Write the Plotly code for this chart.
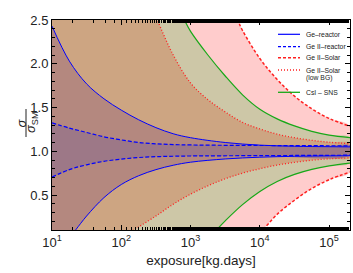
import plotly.graph_objects as go

# ---------------- data ----------------
# Ge-reactor (blue solid)
ge_reac_up_x = [10, 17.8, 31.6, 56.2, 100, 178, 316, 562, 1000, 3162, 10000, 31623, 100000, 200000]
ge_reac_up_y = [2.43, 2.03, 1.77, 1.60, 1.47, 1.36, 1.27, 1.20, 1.155, 1.10, 1.07, 1.057, 1.052, 1.05]
ge_reac_lo_x = [10, 17.8, 21.9, 31.6, 56.2, 100, 178, 316, 562, 1000, 3162, 10000, 31623, 100000, 200000]
ge_reac_lo_y = [-0.3, 0.01, 0.10, 0.26, 0.47, 0.62, 0.72, 0.79, 0.84, 0.875, 0.912, 0.932, 0.942, 0.947, 0.949]

# Ge II-reactor (blue dashed)
ge2_reac_up_x = [10, 17.8, 31.6, 56.2, 100, 178, 316, 562, 1000, 3162, 10000, 100000, 200000]
ge2_reac_up_y = [1.324, 1.265, 1.215, 1.165, 1.13, 1.10, 1.085, 1.076, 1.072, 1.068, 1.066, 1.063, 1.062]
ge2_reac_lo_x = [10, 17.8, 31.6, 56.2, 100, 178, 316, 562, 1000, 10000, 200000]
ge2_reac_lo_y = [0.705, 0.79, 0.845, 0.885, 0.91, 0.928, 0.938, 0.943, 0.946, 0.95, 0.955]

# Ge II-Solar (red dashed)
ge2_sol_up_x = [10, 3981, 4786, 5623, 10000, 17783, 31623, 56234, 100000, 200000]
ge2_sol_up_y = [3.2, 2.64, 2.5, 2.38, 2.06, 1.82, 1.63, 1.485, 1.375, 1.285]
ge2_sol_lo_x = [10, 7943, 10965, 17783, 31623, 56234, 100000, 200000]
ge2_sol_lo_y = [-0.5, 0.0, 0.10, 0.28, 0.44, 0.575, 0.675, 0.762]

# Ge II-Solar low BG (red dotted)
ge2_low_up_x = [10, 251, 331, 562, 1000, 1778, 3162, 5623, 10000, 17783, 31623, 56234, 100000, 200000]
ge2_low_up_y = [3.2, 2.72, 2.5, 2.10, 1.78, 1.59, 1.45, 1.33, 1.255, 1.195, 1.155, 1.125, 1.103, 1.087]
ge2_low_lo_x = [10, 100, 151, 178, 316, 562, 1000, 1778, 3162, 5623, 10000, 17783, 31623, 56234, 100000, 200000]
ge2_low_lo_y = [-0.5, 0.01, 0.10, 0.135, 0.26, 0.395, 0.51, 0.605, 0.685, 0.75, 0.80, 0.842, 0.873, 0.898, 0.913, 0.925]

# CsI - SNS (green)
csi_up_x = [10, 631, 813, 1000, 1778, 3162, 5623, 10000, 17783, 31623, 56234, 100000, 200000]
csi_up_y = [3.2, 2.68, 2.5, 2.37, 2.10, 1.86, 1.645, 1.48, 1.37, 1.29, 1.228, 1.185, 1.156]
csi_lo_x = [10, 1585, 2344, 3162, 5623, 10000, 17783, 31623, 56234, 100000, 200000]
csi_lo_y = [-0.5, 0.0, 0.10, 0.205, 0.39, 0.54, 0.655, 0.735, 0.792, 0.832, 0.865]

x_tickvals = [10, 100, 1000, 10000, 100000]
x_ticktext = ["10<sup>1</sup>", "10<sup>2</sup>", "10<sup>3</sup>", "10<sup>4</sup>", "10<sup>5</sup>"]
y_tickvals = [0.5, 1.0, 1.5, 2.0, 2.5]
y_ticktext = ["0.5", "1.0", "1.5", "2.0", "2.5"]

legend_names = ["Ge\u2013reactor", "Ge II\u2013reactor", "Ge II\u2013Solar", "Ge II\u2013Solar", "CsI \u2013 SNS"]

# ---------------- styles ----------------
FONT = "Liberation Sans, Arial, sans-serif"
BLUE = "#0000ff"
RED = "#ff2020"
GREEN = "#18a818"
SPL = dict(shape="spline", smoothing=1.0)

bands = [
    # (upper x, upper y, lower x, lower y, fill colour, line colour, dash, width)
    (ge2_sol_up_x, ge2_sol_up_y, ge2_sol_lo_x, ge2_sol_lo_y, "#ffcccc", RED, "3px,2px", 1.5),
    (csi_up_x, csi_up_y, csi_lo_x, csi_lo_y, "#cdc7a7", GREEN, "solid", 1.2),
    (ge2_low_up_x, ge2_low_up_y, ge2_low_lo_x, ge2_low_lo_y, "#cda582", RED, "1px,2px", 1.3),
    (ge_reac_up_x, ge_reac_up_y, ge_reac_lo_x, ge_reac_lo_y, "#b4887f", BLUE, "solid", 1.0),
    (ge2_reac_up_x, ge2_reac_up_y, ge2_reac_lo_x, ge2_reac_lo_y, "#9d7887", BLUE, "4px,2px", 1.2),
]

fig = go.Figure()

# fills (nested, outermost first): upper edge forward, lower edge back
for ux, uy, lx, ly, fc, lc, dash, w in bands:
    fig.add_trace(go.Scatter(
        x=ux + lx[::-1], y=uy + ly[::-1], mode="lines", fill="toself",
        fillcolor=fc, line=dict(width=0, **SPL),
        hoverinfo="skip", showlegend=False))

# boundary lines
for ux, uy, lx, ly, fc, lc, dash, w in bands:
    for xs, ys in ((ux, uy), (lx, ly)):
        fig.add_trace(go.Scatter(
            x=xs, y=ys, mode="lines",
            line=dict(color=lc, dash=dash, width=w, **SPL),
            hoverinfo="skip", showlegend=False))

# ---------------- manual legend ----------------
L, R, T, B = 52, 3, 20, 43
W, H = 353, 273
PW, PH = W - L - R, H - T - B
def px2x(px): return (px - L) / PW
def py2y(py): return (H - B - py) / PH

legend_styles = [(BLUE, "solid", 1.2), (BLUE, "3px,2px", 1.2), (RED, "3px,2px", 1.6),
                 (RED, "1px,2px", 1.3), (GREEN, "solid", 1.3)]
legend_rows = [34.3, 46.7, 57.7, 70.0, 92.3]
shapes = []
annotations = []
for name, (c, d, w), ry in zip(legend_names, legend_styles, legend_rows):
    shapes.append(dict(type="line", xref="paper", yref="paper",
                       x0=px2x(278), x1=px2x(300), y0=py2y(ry), y1=py2y(ry),
                       line=dict(color=c, dash=d, width=w)))
    annotations.append(dict(xref="paper", yref="paper", x=px2x(304), y=py2y(ry),
                            xanchor="left", yanchor="middle", text=name, showarrow=False,
                            font=dict(family=FONT, size=6.8, color="#222")))
annotations.append(dict(xref="paper", yref="paper", x=px2x(319), y=py2y(77.5),
                        xanchor="center", yanchor="middle", text="(low BG)", showarrow=False,
                        font=dict(family=FONT, size=6.8, color="#222")))

# ---------------- y-axis title as a fraction ----------------
annotations.append(dict(xref="paper", yref="paper", x=px2x(20.5), y=py2y(123),
                        text="<i>σ</i>", textangle=-90, showarrow=False,
                        xanchor="center", yanchor="middle",
                        font=dict(family=FONT, size=13, color="#222")))
annotations.append(dict(xref="paper", yref="paper", x=px2x(31), y=py2y(123),
                        text="<i>σ</i><sub>SM</sub>", textangle=-90, showarrow=False,
                        xanchor="center", yanchor="middle",
                        font=dict(family=FONT, size=13, color="#222")))
shapes.append(dict(type="line", xref="paper", yref="paper",
                   x0=px2x(26), x1=px2x(26), y0=py2y(109), y1=py2y(137),
                   line=dict(color="#222", width=1)))

axis_common = dict(showgrid=False, zeroline=False, showline=True, linecolor="black",
                   linewidth=1, mirror="allticks", ticks="inside", ticklen=5,
                   tickcolor="black", tickwidth=1,
                   tickfont=dict(family=FONT, size=13, color="#222"))

fig.update_layout(
    width=W, height=H,
    margin=dict(l=L, r=R, t=T, b=B),
    paper_bgcolor="white", plot_bgcolor="white",
    showlegend=False,
    xaxis=dict(type="log", range=[1, 5.301], tickvals=x_tickvals, ticktext=x_ticktext,
               minor=dict(ticks="inside", ticklen=3, tickcolor="black", showgrid=False),
               title=dict(text="exposure[kg.days]", standoff=6,
                          font=dict(family=FONT, size=13.5, color="#222")),
               **axis_common),
    yaxis=dict(range=[0.1, 2.5], tickvals=y_tickvals, ticktext=y_ticktext,
               minor=dict(dtick=0.1, ticks="inside", ticklen=3, tickcolor="black", showgrid=False),
               **axis_common),
    shapes=shapes,
    annotations=annotations,
)

fig.write_html("out.html", config={"displayModeBar": False},
               post_script="document.body.style.margin='0';document.body.style.overflow='hidden';")
